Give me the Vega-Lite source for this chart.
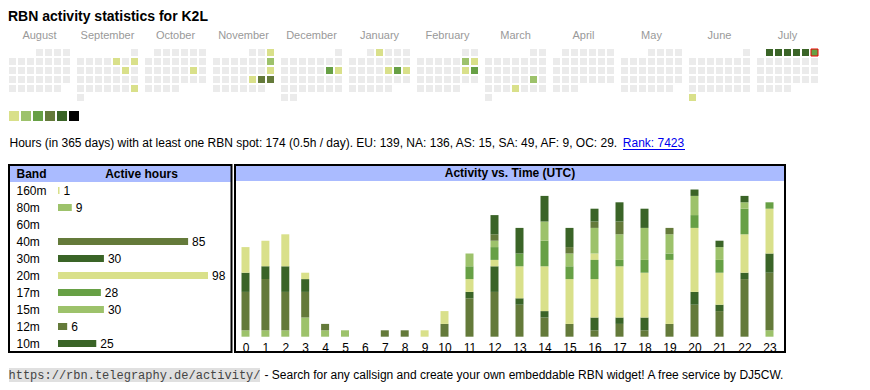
{
  "$schema": "https://vega.github.io/schema/vega-lite/v6.json",
  "padding": {"left": 8, "top": 10, "right": 0, "bottom": 0},
  "background": "white",
  "config": {
    "view": {"stroke": null},
    "font": "Liberation Sans",
    "text": {"font": "Liberation Sans"},
    "axis": {"labelFont": "Liberation Sans", "titleFont": "Liberation Sans"},
    "header": {"labelFont": "Liberation Sans"},
    "title": {"font": "Liberation Sans"}
  },
  "title": {"text": "RBN activity statistics for K2L", "anchor": "start", "fontSize": 14, "fontWeight": "bold", "color": "black", "offset": 6},
  "datasets": {
    "totals": [
      {"band": "160m", "n": 1}, {"band": "80m", "n": 9}, {"band": "40m", "n": 85}, {"band": "30m", "n": 30},
      {"band": "20m", "n": 98}, {"band": "17m", "n": 28}, {"band": "15m", "n": 30}, {"band": "12m", "n": 6}, {"band": "10m", "n": 25}
    ],
    "hourly": [
      {"h":0,"b":"80m","n":1},{"h":0,"b":"40m","n":6},{"h":0,"b":"30m","n":3},{"h":0,"b":"20m","n":4},
      {"h":1,"b":"80m","n":1},{"h":1,"b":"40m","n":8},{"h":1,"b":"30m","n":2},{"h":1,"b":"20m","n":4},
      {"h":2,"b":"80m","n":1},{"h":2,"b":"40m","n":6},{"h":2,"b":"30m","n":4},{"h":2,"b":"20m","n":5},
      {"h":3,"b":"80m","n":3},{"h":3,"b":"40m","n":4},{"h":3,"b":"30m","n":2},{"h":3,"b":"20m","n":1},
      {"h":4,"b":"80m","n":1},{"h":4,"b":"40m","n":1},
      {"h":5,"b":"80m","n":1},
      {"h":7,"b":"40m","n":1},
      {"h":8,"b":"40m","n":1},
      {"h":9,"b":"20m","n":1},
      {"h":10,"b":"40m","n":2},{"h":10,"b":"20m","n":2},
      {"h":11,"b":"40m","n":6},{"h":11,"b":"30m","n":1},{"h":11,"b":"20m","n":2},{"h":11,"b":"17m","n":2},{"h":11,"b":"15m","n":2},
      {"h":12,"b":"40m","n":7},{"h":12,"b":"30m","n":4},{"h":12,"b":"20m","n":1},{"h":12,"b":"17m","n":2},{"h":12,"b":"15m","n":1},{"h":12,"b":"12m","n":1},{"h":12,"b":"10m","n":3},
      {"h":13,"b":"40m","n":5},{"h":13,"b":"30m","n":1},{"h":13,"b":"20m","n":5},{"h":13,"b":"17m","n":2},{"h":13,"b":"10m","n":4},
      {"h":14,"b":"40m","n":3},{"h":14,"b":"30m","n":1},{"h":14,"b":"20m","n":7},{"h":14,"b":"17m","n":4},{"h":14,"b":"15m","n":3},{"h":14,"b":"10m","n":4},
      {"h":15,"b":"40m","n":2},{"h":15,"b":"20m","n":7},{"h":15,"b":"17m","n":2},{"h":15,"b":"15m","n":2},{"h":15,"b":"12m","n":1},{"h":15,"b":"10m","n":3},
      {"h":16,"b":"160m","n":1},{"h":16,"b":"40m","n":1},{"h":16,"b":"30m","n":2},{"h":16,"b":"20m","n":6},{"h":16,"b":"17m","n":3},{"h":16,"b":"15m","n":4},{"h":16,"b":"12m","n":1},{"h":16,"b":"10m","n":2},
      {"h":17,"b":"40m","n":2},{"h":17,"b":"30m","n":1},{"h":17,"b":"20m","n":8},{"h":17,"b":"17m","n":1},{"h":17,"b":"15m","n":4},{"h":17,"b":"12m","n":2},{"h":17,"b":"10m","n":3},
      {"h":18,"b":"40m","n":1},{"h":18,"b":"30m","n":2},{"h":18,"b":"20m","n":7},{"h":18,"b":"17m","n":2},{"h":18,"b":"15m","n":5},{"h":18,"b":"10m","n":3},
      {"h":19,"b":"40m","n":2},{"h":19,"b":"20m","n":10},{"h":19,"b":"17m","n":1},{"h":19,"b":"15m","n":3},{"h":19,"b":"12m","n":1},
      {"h":20,"b":"40m","n":5},{"h":20,"b":"30m","n":2},{"h":20,"b":"20m","n":10},{"h":20,"b":"17m","n":2},{"h":20,"b":"15m","n":3},{"h":20,"b":"10m","n":1},
      {"h":21,"b":"40m","n":4},{"h":21,"b":"30m","n":1},{"h":21,"b":"20m","n":5},{"h":21,"b":"17m","n":2},{"h":21,"b":"15m","n":2},{"h":21,"b":"10m","n":1},
      {"h":22,"b":"40m","n":9},{"h":22,"b":"30m","n":1},{"h":22,"b":"20m","n":6},{"h":22,"b":"17m","n":4},{"h":22,"b":"15m","n":1},{"h":22,"b":"10m","n":1},
      {"h":23,"b":"80m","n":1},{"h":23,"b":"40m","n":9},{"h":23,"b":"30m","n":3},{"h":23,"b":"20m","n":7},{"h":23,"b":"17m","n":1}
    ],
    "calendar": [
      {"m":"August","r":0,"c":[3,4,5,6],"v":[0,0,0,0]},
      {"m":"August","r":1,"c":[0,1,2,3,4,5,6],"v":[0,0,0,0,0,0,0]},
      {"m":"August","r":2,"c":[0,1,2,3,4,5,6],"v":[0,0,0,0,0,0,0]},
      {"m":"August","r":3,"c":[0,1,2,3,4,5,6],"v":[0,0,0,0,0,0,0]},
      {"m":"August","r":4,"c":[0,1,2,3,4,5],"v":[0,0,0,0,0,0]},
      {"m":"September","r":0,"c":[6],"v":[0]},
      {"m":"September","r":1,"c":[0,1,2,3,4,5,6],"v":[0,0,0,0,1,0,1]},
      {"m":"September","r":2,"c":[0,1,2,3,4,5,6],"v":[0,0,0,0,0,1,0]},
      {"m":"September","r":3,"c":[0,1,2,3,4,5,6],"v":[0,0,0,0,0,0,0]},
      {"m":"September","r":4,"c":[0,1,2,3,4,5,6],"v":[0,0,0,0,0,0,1]},
      {"m":"September","r":5,"c":[0],"v":[0]},
      {"m":"October","r":0,"c":[1,2,3,4,5,6],"v":[0,0,0,0,0,0]},
      {"m":"October","r":1,"c":[0,1,2,3,4,5,6],"v":[0,0,0,0,0,0,0]},
      {"m":"October","r":2,"c":[0,1,2,3,4,5,6],"v":[0,0,0,0,0,1,0]},
      {"m":"October","r":3,"c":[0,1,2,3,4,5,6],"v":[0,0,0,0,0,0,0]},
      {"m":"October","r":4,"c":[0,1,2,3],"v":[0,0,0,0]},
      {"m":"November","r":0,"c":[4,5,6],"v":[0,0,1]},
      {"m":"November","r":1,"c":[0,1,2,3,4,5,6],"v":[0,0,0,0,0,0,2]},
      {"m":"November","r":2,"c":[0,1,2,3,4,5,6],"v":[0,0,0,0,0,0,1]},
      {"m":"November","r":3,"c":[0,1,2,3,4,5,6],"v":[0,0,0,0,1,4,4]},
      {"m":"November","r":4,"c":[0,1,2,3,4,5],"v":[0,0,0,0,0,0]},
      {"m":"December","r":0,"c":[6],"v":[0]},
      {"m":"December","r":1,"c":[0,1,2,3,4,5,6],"v":[0,0,0,0,0,0,0]},
      {"m":"December","r":2,"c":[0,1,2,3,4,5,6],"v":[0,0,0,0,0,3,1]},
      {"m":"December","r":3,"c":[0,1,2,3,4,5,6],"v":[0,0,0,0,0,0,0]},
      {"m":"December","r":4,"c":[0,1,2,3,4,5,6],"v":[0,0,0,0,0,0,0]},
      {"m":"December","r":5,"c":[0,1],"v":[0,0]},
      {"m":"January","r":0,"c":[2,3,4,5,6],"v":[0,1,0,0,0]},
      {"m":"January","r":1,"c":[0,1,2,3,4,5,6],"v":[0,0,0,0,0,0,0]},
      {"m":"January","r":2,"c":[0,1,2,3,4,5,6],"v":[0,0,0,0,1,3,1]},
      {"m":"January","r":3,"c":[0,1,2,3,4,5,6],"v":[0,0,0,0,0,0,0]},
      {"m":"January","r":4,"c":[0,1,2,3,4],"v":[0,0,0,0,0]},
      {"m":"February","r":0,"c":[5,6],"v":[0,0]},
      {"m":"February","r":1,"c":[0,1,2,3,4,5,6],"v":[0,0,0,0,0,2,1]},
      {"m":"February","r":2,"c":[0,1,2,3,4,5,6],"v":[0,0,0,0,0,1,3]},
      {"m":"February","r":3,"c":[0,1,2,3,4,5,6],"v":[0,0,0,0,0,0,0]},
      {"m":"February","r":4,"c":[0,1,2,3,4],"v":[0,0,0,0,0]},
      {"m":"March","r":0,"c":[5,6],"v":[0,0]},
      {"m":"March","r":1,"c":[0,1,2,3,4,5,6],"v":[0,0,0,0,0,0,0]},
      {"m":"March","r":2,"c":[0,1,2,3,4,5,6],"v":[0,0,0,0,0,0,0]},
      {"m":"March","r":3,"c":[0,1,2,3,4,5,6],"v":[0,0,0,0,0,2,0]},
      {"m":"March","r":4,"c":[0,1,2,3,4,5,6],"v":[0,0,0,1,0,0,0]},
      {"m":"March","r":5,"c":[0],"v":[0]},
      {"m":"April","r":0,"c":[1,2,3,4,5,6],"v":[0,0,0,0,0,0]},
      {"m":"April","r":1,"c":[0,1,2,3,4,5,6],"v":[0,0,0,0,0,0,0]},
      {"m":"April","r":2,"c":[0,1,2,3,4,5,6],"v":[0,0,0,0,0,0,0]},
      {"m":"April","r":3,"c":[0,1,2,3,4,5,6],"v":[0,0,0,0,0,0,0]},
      {"m":"April","r":4,"c":[0,1,2],"v":[0,0,0]},
      {"m":"May","r":0,"c":[3,4,5,6],"v":[0,0,0,0]},
      {"m":"May","r":1,"c":[0,1,2,3,4,5,6],"v":[0,0,0,0,0,0,0]},
      {"m":"May","r":2,"c":[0,1,2,3,4,5,6],"v":[0,0,0,0,0,0,0]},
      {"m":"May","r":3,"c":[0,1,2,3,4,5,6],"v":[0,0,0,0,0,0,0]},
      {"m":"May","r":4,"c":[0,1,2,3,4,5],"v":[0,0,0,0,0,0]},
      {"m":"June","r":0,"c":[6],"v":[0]},
      {"m":"June","r":1,"c":[0,1,2,3,4,5,6],"v":[0,0,0,0,0,0,0]},
      {"m":"June","r":2,"c":[0,1,2,3,4,5,6],"v":[0,0,0,0,0,0,0]},
      {"m":"June","r":3,"c":[0,1,2,3,4,5,6],"v":[0,0,0,0,0,0,0]},
      {"m":"June","r":4,"c":[0,1,2,3,4,5,6],"v":[0,0,0,0,0,0,0]},
      {"m":"June","r":5,"c":[0],"v":[1]},
      {"m":"July","r":0,"c":[1,2,3,4,5,6],"v":[5,5,5,5,5,3],"t":6},
      {"m":"July","r":1,"c":[0,1,2,3,4,5,6],"v":[0,0,0,0,0,0,0]},
      {"m":"July","r":2,"c":[0,1,2,3,4,5,6],"v":[0,0,0,0,0,0,0]},
      {"m":"July","r":3,"c":[0,1,2,3,4,5,6],"v":[0,0,0,0,0,0,0]},
      {"m":"July","r":4,"c":[0,1,2,3],"v":[0,0,0,0]}
    ]
  },
  "resolve": {"scale": {"color": "independent", "fill": "independent"}},
  "spacing": 16,
  "vconcat": [
    {
      "spacing": 10,
      "resolve": {"scale": {"color": "independent", "fill": "independent"}},
      "vconcat": [
        {
          "data": {"name": "calendar"},
          "transform": [{"flatten": ["c", "v"]}],
          "facet": {
            "column": {
              "field": "m", "type": "nominal",
              "sort": ["August","September","October","November","December","January","February","March","April","May","June","July"],
              "title": null,
              "header": {"labelFontSize": 11, "labelColor": "#999999", "labelPadding": 7}
            }
          },
          "spacing": 6,
          "spec": {
            "width": 61,
            "height": 52,
            "mark": {"type": "rect", "strokeWidth": 1},
            "encoding": {
              "x": {"field": "c", "type": "ordinal", "axis": null, "scale": {"domain": [0,1,2,3,4,5,6], "paddingInner": 0.2222, "paddingOuter": 0}},
              "y": {"field": "r", "type": "ordinal", "axis": null, "scale": {"domain": [0,1,2,3,4,5], "paddingInner": 0.2222, "paddingOuter": 0}},
              "fill": {"field": "v", "type": "ordinal", "legend": null, "scale": {"domain": [0,1,2,3,4,5], "range": ["#ebebeb","#d9e08a","#9dc26b","#67a045","#647a3a","#3a6427"]}},
              "stroke": {"condition": {"test": "datum.t === datum.c", "value": "#ee0000"}, "value": null}
            }
          }
        },
        {
          "data": {"values": [{"l": 1}, {"l": 2}, {"l": 3}, {"l": 4}, {"l": 5}, {"l": 6}]},
          "width": 70,
          "height": 10,
          "mark": "rect",
          "encoding": {
            "x": {"field": "l", "type": "ordinal", "axis": null, "scale": {"paddingInner": 0.1667, "paddingOuter": 0}},
            "fill": {"field": "l", "type": "ordinal", "legend": null, "scale": {"domain": [1,2,3,4,5,6], "range": ["#d9e08a","#9dc26b","#67a045","#647a3a","#3a6427","#000000"]}}
          }
        }
      ]
    },
    {
      "spacing": 15,
      "resolve": {"scale": {"color": "independent", "fill": "independent"}},
      "vconcat": [
        {
          "spacing": 3.5,
          "hconcat": [
            {
              "data": {"values": [{"t": "Hours (in 365 days) with at least one RBN spot: 174 (0.5h / day). EU: 139, NA: 136, AS: 15, SA: 49, AF: 9, OC: 29."}]},
              "width": 1, "height": 12,
              "mark": {"type": "text", "align": "left", "baseline": "middle", "fontSize": 12, "color": "black"},
              "encoding": {"text": {"field": "t"}}
            },
            {
              "data": {"values": [{"t": "Rank: 7423"}]},
              "width": 62, "height": 12,
              "mark": {"type": "text", "align": "center", "baseline": "middle", "fontSize": 12, "color": "#0000ee"},
              "encoding": {
                "text": {"field": "t"},
                "x": {"field": "t", "type": "nominal", "scale": {"paddingInner": 0, "paddingOuter": 0},
                      "axis": {"title": null, "labels": false, "ticks": false, "grid": false, "domain": true, "domainColor": "#0000ee", "domainWidth": 1}}
              }
            }
          ]
        },
        {
          "spacing": 1,
          "resolve": {"scale": {"color": "independent"}},
          "hconcat": [
            {
              "width": 222.5, "height": 187,
              "layer": [
                {
                  "encoding": {
                    "y": {"field": "band", "type": "nominal",
                          "scale": {"domain": ["Band","160m","80m","60m","40m","30m","20m","17m","15m","12m","10m"], "paddingInner": 0, "paddingOuter": 0},
                          "axis": {"orient": "left", "title": null, "domain": false, "ticks": false, "labelAlign": "left", "labelPadding": -7, "labelFontSize": 12, "labelColor": "black",
                                   "labelFontWeight": {"condition": {"test": "datum.value === 'Band'", "value": "bold"}, "value": "normal"}, "zindex": 1}}
                  },
                  "layer": [
                    {"data": {"values": [{"band": "Band"}]}, "mark": {"type": "rect", "color": "#aabbff"}},
                    {
                      "data": {"name": "totals"},
                      "mark": {"type": "bar", "size": 7},
                      "encoding": {
                        "x": {"field": "n", "type": "quantitative", "scale": {"domain": [0, 98], "range": [49, 199], "nice": false, "padding": 0},
                              "axis": {"orient": "top", "title": "Active hours", "labels": false, "ticks": false, "domain": false, "grid": false,
                                       "titleX": 132, "titleY": 8.5, "titleBaseline": "middle", "titleFontSize": 12, "titleFontWeight": "bold", "titleColor": "black", "zindex": 1}},
                        "color": {"field": "band", "type": "nominal", "legend": null,
                                  "scale": {"domain": ["160m","80m","60m","40m","30m","20m","17m","15m","12m","10m"],
                                            "range": ["#d9e08a","#9dc26b","#67a045","#647a3a","#3a6427","#d9e08a","#67a045","#9dc26b","#647a3a","#3a6427"]}}
                      }
                    },
                    {
                      "data": {"name": "totals"},
                      "mark": {"type": "text", "align": "left", "baseline": "middle", "dx": 4, "fontSize": 12, "color": "black"},
                      "encoding": {
                        "x": {"field": "n", "type": "quantitative"},
                        "text": {"field": "n", "type": "quantitative"}
                      }
                    }
                  ]
                },
                {"data": {"values": [{}]}, "mark": {"type": "rect", "filled": false, "stroke": "black", "strokeWidth": 2}, "encoding": {}}
              ]
            },
            {
              "width": 550, "height": 187,
              "resolve": {"scale": {"y": "independent"}, "axis": {"y": "independent"}},
              "layer": [
                {
                  "data": {"values": [{"hdr": "h", "t": "Activity vs. Time (UTC)"}]},
                  "encoding": {"y": {"field": "hdr", "type": "nominal", "axis": null, "scale": {"range": [0, 16], "paddingInner": 0, "paddingOuter": 0}}},
                  "layer": [
                    {"mark": {"type": "rect", "color": "#aabbff"}},
                    {"mark": {"type": "text", "fontWeight": "bold", "fontSize": 12, "baseline": "middle", "color": "black"}, "encoding": {"text": {"field": "t"}}}
                  ]
                },
                {
                  "data": {"name": "hourly"},
                  "mark": {"type": "bar", "width": 8},
                  "encoding": {
                    "x": {"field": "h", "type": "quantitative",
                          "scale": {"domain": [0, 10, 23], "range": [10.5, 209.5, 534.5], "nice": false, "zero": false, "padding": 0},
                          "axis": {"orient": "bottom", "values": [0,1,2,3,4,5,6,7,8,9,10,11,12,13,14,15,16,17,18,19,20,21,22,23], "format": "d",
                                   "title": null, "grid": false, "domain": false, "ticks": false, "labelFontSize": 12, "labelColor": "black",
                                   "labelPadding": 1, "offset": -11, "labelFlush": false, "labelOverlap": false, "labelBaseline": "top", "zindex": 1}},
                    "y": {"field": "n", "type": "quantitative", "stack": "zero", "axis": null,
                          "scale": {"domain": [0, 25], "range": [171.7, 11.7], "nice": false}},
                    "color": {"field": "b", "type": "nominal", "legend": null,
                              "sort": ["160m","80m","60m","40m","30m","20m","17m","15m","12m","10m"],
                              "scale": {"domain": ["160m","80m","60m","40m","30m","20m","17m","15m","12m","10m"],
                                        "range": ["#d9e08a","#9dc26b","#67a045","#647a3a","#3a6427","#d9e08a","#67a045","#9dc26b","#647a3a","#3a6427"]}}
                  }
                },
                {"data": {"values": [{}]}, "mark": {"type": "rect", "filled": false, "stroke": "black", "strokeWidth": 2}, "encoding": {}}
              ]
            }
          ]
        },
        {
          "spacing": 3,
          "hconcat": [
            {
              "data": {"values": [{"t": "https://rbn.telegraphy.de/activity/"}]},
              "width": 251, "height": 14,
              "view": {"fill": "#e0e0e0", "stroke": null},
              "mark": {"type": "text", "align": "center", "baseline": "middle", "font": "Liberation Mono", "fontSize": 12, "color": "#444444"},
              "encoding": {"text": {"field": "t"}}
            },
            {
              "data": {"values": [{"t": "- Search for any callsign and create your own embeddable RBN widget! A free service by DJ5CW."}]},
              "width": 1, "height": 14,
              "mark": {"type": "text", "align": "left", "baseline": "middle", "fontSize": 12, "color": "black"},
              "encoding": {"text": {"field": "t"}}
            }
          ]
        }
      ]
    }
  ]
}
